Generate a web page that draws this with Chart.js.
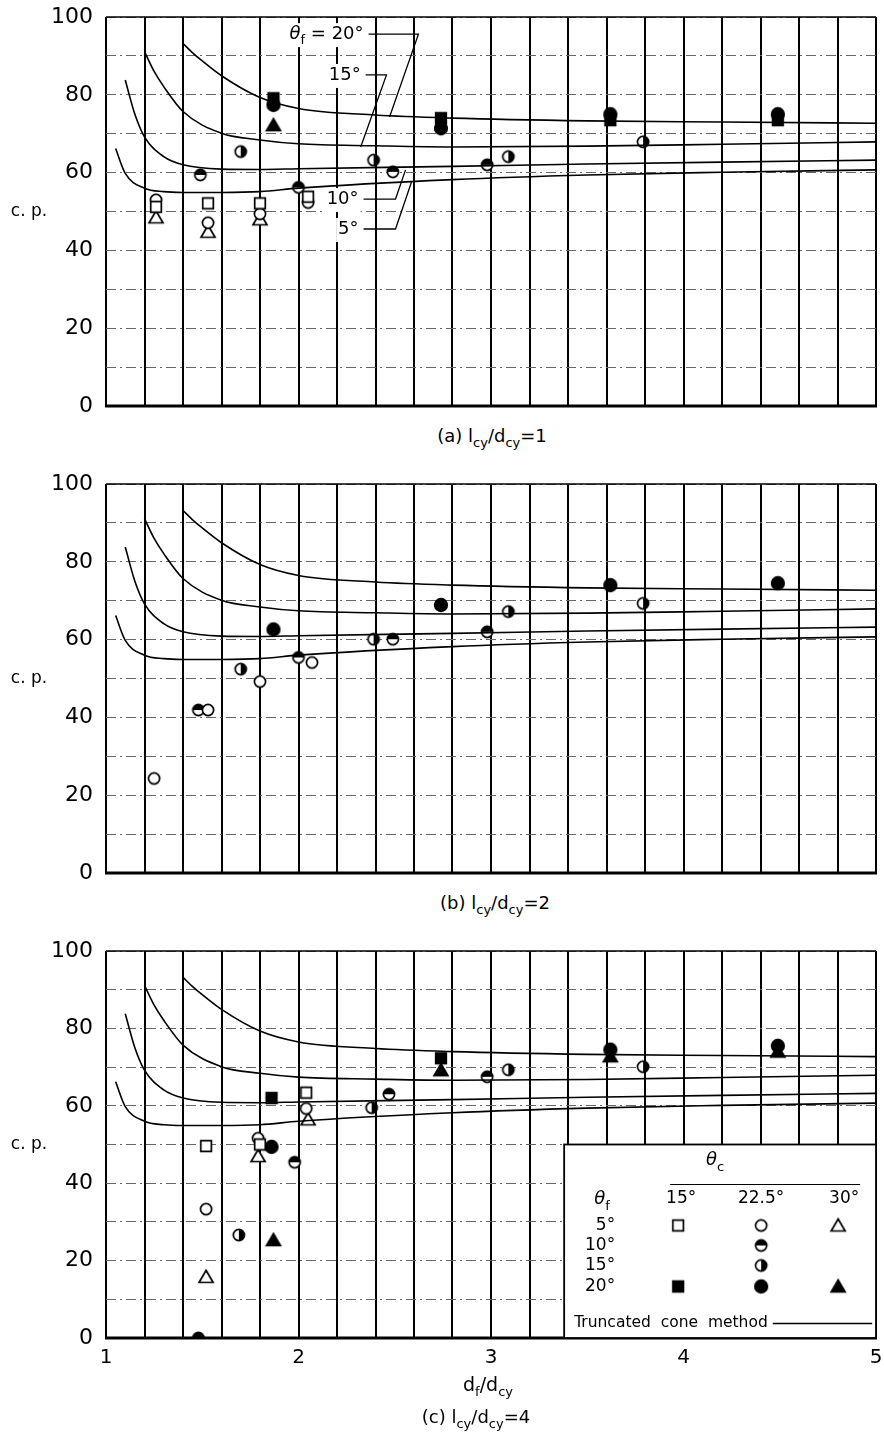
<!DOCTYPE html>
<html>
<head>
<meta charset="utf-8">
<script src="https://cdn.jsdelivr.net/npm/chart.js@4.4.0/dist/chart.umd.min.js"></script>
<style>
body{margin:0;background:#fff;width:884px;height:1439px;position:relative;overflow:hidden;font-family:"DejaVu Sans",sans-serif;color:#000}
.box{position:absolute;left:0;width:884px}
.cap{position:absolute;font-size:18px;white-space:nowrap;transform:translate(-50%,-50%)}
.cap sub{font-size:13px;vertical-align:-5px;line-height:0}
</style>
</head>
<body>
<div class="box" style="top:0;height:420px"><canvas id="ca"></canvas></div>
<div class="box" style="top:467px;height:420px"><canvas id="cb"></canvas></div>
<div class="box" style="top:934px;height:440px"><canvas id="cc"></canvas></div>
<div class="cap" style="left:492px;top:435px">(a) l<sub>cy</sub>/d<sub>cy</sub>=1</div>
<div class="cap" style="left:495px;top:902px">(b) l<sub>cy</sub>/d<sub>cy</sub>=2</div>
<div class="cap" style="left:488px;top:1384px;font-size:19px">d<sub>f</sub>/d<sub>cy</sub></div>
<div class="cap" style="left:476px;top:1416px">(c) l<sub>cy</sub>/d<sub>cy</sub>=4</div>
<script>
const FONT = '"DejaVu Sans", sans-serif';
const xTickLabels = ['1', '2', '3', '4', '5'];
const yTickLabels = ['0', '20', '40', '60', '80', '100'];

// truncated cone method, one curve per theta_f (same in all three panels)
const cone5X = [1.05, 1.1, 1.2, 1.3, 1.4, 1.6, 1.8, 2.0, 2.8, 3.5, 4.2, 5.0];
const cone5Y = [66.2, 59.8, 56.0, 55.1, 54.9, 54.9, 55.1, 56.0, 58.2, 59.4, 60.1, 60.7];
const cone10X = [1.1, 1.15, 1.2, 1.3, 1.4, 1.6, 1.8, 2.0, 2.8, 3.5, 4.2, 5.0];
const cone10Y = [83.8, 75.0, 69.2, 64.1, 62.0, 60.9, 60.8, 61.0, 61.6, 62.2, 62.7, 63.2];
const cone15X = [1.2, 1.25, 1.3, 1.4, 1.6, 1.8, 2.0, 2.4, 2.8, 3.5, 4.2, 5.0];
const cone15Y = [91.1, 86.0, 82.1, 75.7, 70.1, 68.4, 67.4, 66.9, 66.6, 66.8, 67.3, 67.9];
const cone20X = [1.4, 1.45, 1.5, 1.6, 1.8, 2.0, 2.4, 2.8, 3.5, 4.2, 5.0];
const cone20Y = [93.2, 90.8, 88.7, 84.9, 79.3, 76.5, 74.8, 74.0, 73.3, 73.0, 72.7];

// test points [d_f/d_cy, c.p.]; name = panel + theta_f + theta_c
const a5_15 = [[1.26, 51.2], [1.53, 52.1], [1.80, 52.1], [2.05, 53.8]];
const a5_22 = [[1.26, 53.0], [1.53, 47.1], [1.80, 49.4], [2.05, 52.3]];
const a5_30 = [[1.26, 48.5], [1.53, 44.8], [1.80, 48.0]];
const a10_22 = [[1.49, 59.4], [2.00, 56.2], [2.49, 60.2], [2.98, 62.0]];
const a15_22 = [[1.70, 65.4], [2.39, 63.2], [3.09, 64.1], [3.79, 67.9]];
const a20_15 = [[1.87, 79.1], [2.74, 74.0], [3.62, 73.5], [4.49, 73.5]];
const a20_22 = [[1.87, 77.4], [2.74, 71.4], [3.62, 75.0], [4.49, 75.0]];
const a20_30 = [[1.87, 72.2]];

const b5_22 = [[1.25, 24.3], [1.53, 41.9], [1.80, 49.2], [2.07, 54.1]];
const b10_22 = [[1.48, 41.9], [2.00, 55.4], [2.49, 60.1], [2.98, 62.0]];
const b15_22 = [[1.70, 52.4], [2.39, 60.1], [3.09, 67.2], [3.79, 69.3]];
const b20_22 = [[1.87, 62.6], [2.74, 68.9], [3.62, 74.0], [4.49, 74.5]];

const c5_15 = [[1.52, 49.6], [1.80, 50.0], [2.04, 63.4]];
const c5_22 = [[1.52, 33.3], [1.79, 51.6], [2.04, 59.3]];
const c5_30 = [[1.52, 15.8], [1.79, 47.0], [2.05, 56.5]];
const c10_22 = [[1.48, 0.0], [1.98, 45.4], [2.47, 63.0], [2.98, 67.5]];
const c15_22 = [[1.69, 26.6], [2.38, 59.5], [3.09, 69.3], [3.79, 70.1]];
const c20_15 = [[1.86, 62.0], [2.74, 72.3]];
const c20_22 = [[1.86, 49.4], [3.62, 74.5], [4.49, 75.5]];
const c20_30 = [[1.87, 25.3], [2.74, 69.2], [3.62, 72.8], [4.49, 74.0]];

// labels on the curves in panel (a): leader polyline in data units
const coneLabels = [
  {deg: '20°', theta: true, leader: [[2.364, 95.6], [2.623, 95.6], [2.473, 74.3]]},
  {deg: '15°', leader: [[2.349, 85.1], [2.457, 85.1], [2.323, 66.6]]},
  {deg: '10°', leader: [[2.338, 53.2], [2.504, 53.2], [2.556, 60.7]]},
  {deg: '5°', leader: [[2.338, 45.5], [2.504, 45.5], [2.587, 57.6]]}
];

function marker(kind) {
  const c = document.createElement('canvas');
  c.width = 18; c.height = 18;
  const g = c.getContext('2d');
  const m = 9;
  g.lineWidth = 1.7; g.strokeStyle = '#000'; g.fillStyle = '#fff';
  if (kind === 'sq' || kind === 'sqF') {
    g.beginPath(); g.rect(m - 5.3, m - 5.3, 10.6, 10.6);
    g.fillStyle = kind === 'sqF' ? '#000' : '#fff'; g.fill(); g.stroke();
  } else if (kind === 'tri' || kind === 'triF') {
    g.beginPath(); g.moveTo(m, m - 6.5); g.lineTo(m + 7, m + 5.5); g.lineTo(m - 7, m + 5.5); g.closePath();
    g.fillStyle = kind === 'triF' ? '#000' : '#fff'; g.fill(); g.stroke();
  } else {
    const r = kind === 'cirF' ? 6.3 : 5.6;
    g.beginPath(); g.arc(m, m, r, 0, Math.PI * 2);
    g.fillStyle = kind === 'cirF' ? '#000' : '#fff'; g.fill();
    if (kind === 'top' || kind === 'right') {
      g.save(); g.beginPath();
      if (kind === 'top') g.rect(0, 0, 18, m); else g.rect(m, 0, 9, 18);
      g.clip();
      g.beginPath(); g.arc(m, m, r, 0, Math.PI * 2); g.fillStyle = '#000'; g.fill();
      g.restore();
    }
    g.beginPath(); g.arc(m, m, r, 0, Math.PI * 2); g.stroke();
  }
  return c;
}
const markers = {};
['sq', 'sqF', 'cir', 'cirF', 'tri', 'triF', 'top', 'right'].forEach(k => markers[k] = marker(k));

function fontOf(s, size) {
  return (s === 'i' ? 'italic ' : '') + (s === 's' ? Math.round(size * 0.7) : size) + 'px ' + FONT;
}
function richWidth(ctx, parts, size) {
  let w = 0;
  parts.forEach(p => { ctx.font = fontOf(p[1], size); w += ctx.measureText(p[0]).width; });
  return w;
}
function rich(ctx, parts, x, y, align, size) {
  const w = richWidth(ctx, parts, size);
  let cx = align === 'right' ? x - w : align === 'center' ? x - w / 2 : x;
  ctx.textAlign = 'left'; ctx.textBaseline = 'middle'; ctx.fillStyle = '#000';
  parts.forEach(p => {
    ctx.font = fontOf(p[1], size);
    ctx.fillText(p[0], cx, p[1] === 's' ? y + size * 0.38 : y);
    cx += ctx.measureText(p[0]).width;
  });
  return w;
}

const framePlugin = {
  id: 'frame',
  beforeDatasetsDraw(chart) {
    const {ctx, chartArea: a} = chart;
    ctx.save();
    ctx.strokeStyle = '#000';
    ctx.lineWidth = 1.5;
    ctx.beginPath(); ctx.moveTo(a.left, a.top); ctx.lineTo(a.right, a.top); ctx.stroke();
    ctx.lineWidth = 3;
    ctx.beginPath(); ctx.moveTo(a.left - 1, a.bottom); ctx.lineTo(a.right + 1, a.bottom); ctx.stroke();
    ctx.restore();
  },
  afterDraw(chart) {
    const ctx = chart.ctx;
    ctx.save();
    ctx.font = '17px ' + FONT; ctx.fillStyle = '#000';
    ctx.textAlign = 'center'; ctx.textBaseline = 'middle';
    ctx.fillText('c. p.', 29, chart.scales.y.getPixelForValue(50));
    ctx.restore();
  }
};

const labelPlugin = {
  id: 'coneLabels',
  afterDatasetsDraw(chart) {
    const {ctx, scales: {x, y}} = chart;
    ctx.save();
    coneLabels.forEach(l => {
      const pts = l.leader.map(p => [x.getPixelForValue(p[0]), y.getPixelForValue(p[1])]);
      ctx.strokeStyle = '#000'; ctx.lineWidth = 1.3;
      ctx.beginPath(); ctx.moveTo(pts[0][0], pts[0][1]);
      pts.slice(1).forEach(p => ctx.lineTo(p[0], p[1]));
      ctx.stroke();
      const parts = l.theta ? [['θ', 'i'], ['f', 's'], [' = ' + l.deg, '']] : [[l.deg, '']];
      const w = richWidth(ctx, parts, 18);
      ctx.fillStyle = '#fff';
      ctx.fillRect(pts[0][0] - 5 - w - 2, pts[0][1] - 11, w + 4, 24);
      rich(ctx, parts, pts[0][0] - 5, pts[0][1], 'right', 18);
    });
    ctx.restore();
  }
};

const legendPlugin = {
  id: 'keyBox',
  beforeDatasetsDraw(chart) {
    const {ctx, chartArea: a, scales: {x, y}} = chart;
    const L = x.getPixelForValue(3.38), T = y.getPixelForValue(50);
    ctx.save();
    ctx.fillStyle = '#fff';
    ctx.fillRect(L, T, a.right - L, a.bottom - T);
    ctx.strokeStyle = '#000'; ctx.lineWidth = 1.8;
    ctx.strokeRect(L, T, a.right - L, a.bottom - T);
    rich(ctx, [['θ', 'i'], ['c', 's']], L + 151, T + 16, 'center', 18);
    ctx.lineWidth = 1.2;
    ctx.beginPath(); ctx.moveTo(L + 106, T + 40); ctx.lineTo(L + 296, T + 40); ctx.stroke();
    rich(ctx, [['15°', '']], L + 117, T + 54, 'center', 17);
    rich(ctx, [['22.5°', '']], L + 197, T + 54, 'center', 17);
    rich(ctx, [['30°', '']], L + 280, T + 54, 'center', 17);
    rich(ctx, [['θ', 'i'], ['f', 's']], L + 38, T + 55, 'center', 18);
    const rows = [
      ['5°', T + 81, ['sq', 'cir', 'tri']],
      ['10°', T + 101, [null, 'top', null]],
      ['15°', T + 121, [null, 'right', null]],
      ['20°', T + 142, ['sqF', 'cirF', 'triF']]
    ];
    const cols = [L + 114, L + 197, L + 274];
    rows.forEach(r => {
      rich(ctx, [[r[0], '']], L + 51, r[1], 'right', 17);
      r[2].forEach((k, i) => { if (k) ctx.drawImage(markers[k], cols[i] - 9, r[1] - 9); });
    });
    const tw = rich(ctx, [['Truncated  cone  method', '']], L + 10, T + 178, 'left', 15.5);
    ctx.lineWidth = 1.5;
    ctx.beginPath(); ctx.moveTo(L + 10 + tw + 5, T + 179); ctx.lineTo(L + 308, T + 179); ctx.stroke();
    ctx.restore();
  }
};

function xyPairs(xs, ys) { return xs.map((v, i) => ({x: v, y: ys[i]})); }
function toPts(arr) { return arr.map(p => ({x: p[0], y: p[1]})); }

function makePanel(id, sets, showX, axisH, extra) {
  const datasets = [];
  [[cone5X, cone5Y], [cone10X, cone10Y], [cone15X, cone15Y], [cone20X, cone20Y]].forEach(c => {
    datasets.push({data: xyPairs(c[0], c[1]), showLine: true, borderColor: '#000', borderWidth: 1.6,
      pointRadius: 0, cubicInterpolationMode: 'monotone', fill: false});
  });
  sets.forEach(s => {
    datasets.push({data: toPts(s[0]), pointStyle: markers[s[1]], pointRadius: 7, showLine: false});
  });
  new Chart(document.getElementById(id), {
    type: 'scatter',
    data: {datasets},
    options: {
      responsive: true, maintainAspectRatio: false, animation: false,
      layout: {padding: {top: 17, right: 4, left: 0, bottom: 0}},
      plugins: {legend: {display: false}, tooltip: {enabled: false}},
      scales: {
        x: {
          type: 'linear', min: 1, max: 5,
          ticks: {stepSize: 0.2, autoSkip: false, display: showX, padding: 8, maxRotation: 0, color: '#000',
            font: {family: FONT, size: 20},
            callback: v => { const r = Math.round(v); return Math.abs(v - r) < 1e-6 ? xTickLabels[r - 1] : ''; }},
          grid: {color: '#000', lineWidth: 2, drawTicks: false},
          border: {display: false},
          afterFit: s => { s.height = axisH; s.paddingLeft = 0; s.paddingRight = 0; }
        },
        y: {
          min: 0, max: 100,
          ticks: {stepSize: 10, padding: 13, color: '#000', font: {family: FONT, size: 22},
            callback: v => yTickLabels.includes(String(v)) ? String(v) : ''},
          grid: {color: '#666', lineWidth: 1, drawTicks: false},
          border: {display: false, dash: [10, 4, 2, 4]},
          afterFit: s => { s.width = 106; s.paddingTop = 0; s.paddingBottom = 0; }
        }
      }
    },
    plugins: [framePlugin].concat(extra)
  });
}

makePanel('ca', [[a5_15, 'sq'], [a5_22, 'cir'], [a5_30, 'tri'], [a10_22, 'top'], [a15_22, 'right'],
  [a20_15, 'sqF'], [a20_22, 'cirF'], [a20_30, 'triF']], false, 14, [labelPlugin]);
makePanel('cb', [[b5_22, 'cir'], [b10_22, 'top'], [b15_22, 'right'], [b20_22, 'cirF']], false, 14, []);
makePanel('cc', [[c5_15, 'sq'], [c5_22, 'cir'], [c5_30, 'tri'], [c10_22, 'top'], [c15_22, 'right'],
  [c20_15, 'sqF'], [c20_22, 'cirF'], [c20_30, 'triF']], true, 36, [legendPlugin]);
</script>
</body>
</html>
